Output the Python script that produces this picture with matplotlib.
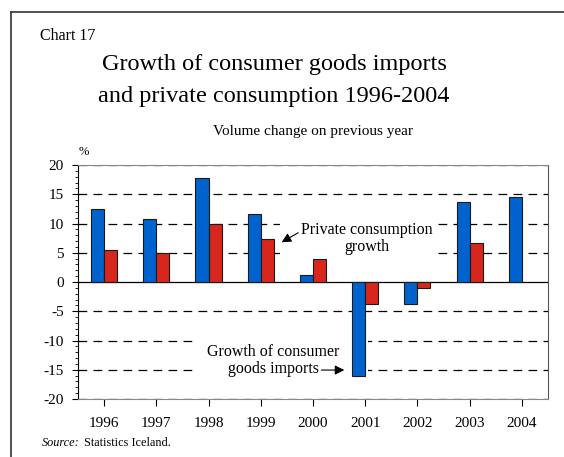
import numpy as np
import matplotlib.pyplot as plt
from matplotlib.lines import Line2D
from matplotlib.patches import Rectangle
from matplotlib.ticker import MultipleLocator

plt.rcParams['font.family'] = ['Liberation Serif', 'DejaVu Serif']
plt.rcParams['axes.unicode_minus'] = False

years = ["1996", "1997", "1998", "1999", "2000", "2001", "2002", "2003", "2004"]
imports_growth = [12.4, 10.8, 17.8, 11.6, 1.2, -16.1, -3.8, 13.6, 14.5]
consumption_growth = [5.4, 5.0, 10.0, 7.3, 3.9, -3.8, -1.1, 6.6, np.nan]

BLUE = "#0062cc"
RED = "#d7261b"

fig = plt.figure(figsize=(5.64, 4.57), dpi=100)
ax = fig.add_axes([0.1383, 0.1269, 0.8333, 0.512])

x = np.arange(len(years)) + 0.5
w = 0.25
ax.bar(x - w / 2, imports_growth, w, color=BLUE, edgecolor="#1a1a1a", lw=0.8, zorder=3)
ax.bar(x + w / 2, consumption_growth, w, color=RED, edgecolor="#1a1a1a", lw=0.8, zorder=3)

ax.set_xlim(0, 9)
ax.set_ylim(-20, 20)

# dashed grid, solid zero line
for v in [-20, -15, -10, -5, 5, 10, 15, 20]:
    ax.axhline(v, color="black", lw=0.9, ls=(0, (7, 5)), zorder=1)
ax.axhline(0, color="black", lw=0.9, zorder=2.5)

# white panels behind the annotations
ax.add_patch(Rectangle((2.2, -17.0), 3.35, 8.3, facecolor="white", edgecolor="none", zorder=2))
ax.add_patch(Rectangle((3.86, 4.2), 3.02, 6.8, facecolor="white", edgecolor="none", zorder=2))

ax.annotate("Private consumption\ngrowth", xy=(3.9, 6.8), xytext=(5.53, 7.45),
            ha="center", va="center", fontsize=11.5, linespacing=1.1, zorder=4,
            arrowprops=dict(arrowstyle="-|>", color="black", lw=0.8, mutation_scale=14,
                            shrinkA=0, shrinkB=0, relpos=(0.0, 0.72)))
ax.text(3.74, -13.35, "Growth of consumer\ngoods imports", ha="center", va="center",
        fontsize=11.5, linespacing=1.1, zorder=4)
ax.annotate("", xy=(5.1, -15.05), xytext=(4.66, -15.05),
            arrowprops=dict(arrowstyle="-|>", color="black", lw=0.8, mutation_scale=14,
                            shrinkA=0, shrinkB=0), zorder=4)

ax.set_xticks(x)
ax.set_xticklabels(years, fontsize=11)
ax.yaxis.set_major_locator(MultipleLocator(5))
ax.yaxis.set_minor_locator(MultipleLocator(1))
ax.tick_params(axis="y", which="major", length=4, width=0.8, labelsize=11, pad=6)
ax.tick_params(axis="y", which="minor", length=2.5, width=0.6)
ax.tick_params(axis="x", length=5, width=0.8, pad=8)

for side in ["top", "bottom"]:
    ax.spines[side].set_color("#888888")
ax.spines["right"].set_color("#555555")
ax.spines["left"].set_color("black")

fig.text(0.071, 0.921, "Chart 17", fontsize=11.5, va="center")
fig.text(0.486, 0.858, "Growth of consumer goods imports", ha="center", va="center", fontsize=17.5)
fig.text(0.486, 0.788, "and private consumption 1996-2004", ha="center", va="center", fontsize=17.5)
fig.text(0.555, 0.713, "Volume change on previous year", ha="center", va="center", fontsize=11)
fig.text(0.149, 0.667, "%", ha="center", va="center", fontsize=9)
fig.text(0.074, 0.03, "Source:", style="italic", fontsize=8.8, va="center")
fig.text(0.149, 0.03, "Statistics Iceland.", fontsize=8.8, va="center")

# outer frame (left and top edges)
fig.add_artist(Line2D([0.0195, 0.0195], [0.0, 0.974], color="#333333", lw=1.2))
fig.add_artist(Line2D([0.0195, 1.0], [0.974, 0.974], color="#333333", lw=1.2))

fig.savefig("out.png", dpi=100)
